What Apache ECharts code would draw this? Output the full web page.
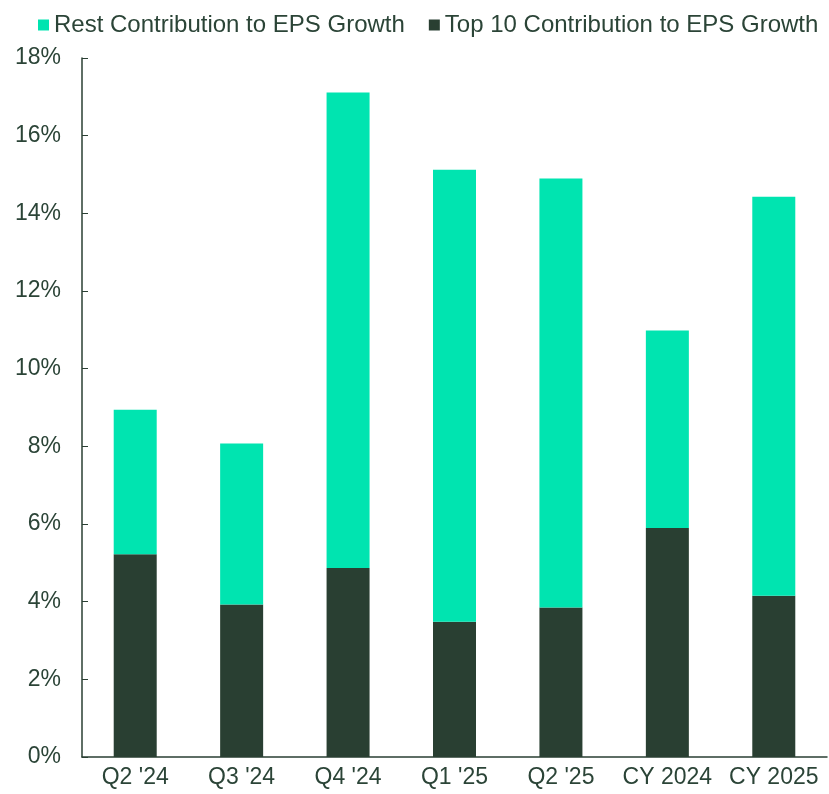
<!DOCTYPE html>
<html>
<head>
<meta charset="utf-8">
<script src="https://cdn.jsdelivr.net/npm/echarts@6/dist/echarts.min.js"></script>
<style>
  html, body { margin: 0; padding: 0; background: #fff; }
  #chart { width: 829px; height: 794px; }
</style>
</head>
<body>
<div id="chart"></div>
<script>
  // 数据
  var categories = ["Q2 '24", "Q3 '24", "Q4 '24", "Q1 '25", "Q2 '25", "CY 2024", "CY 2025"];
  var top10Values = [5.22, 3.93, 4.87, 3.48, 3.85, 5.90, 4.15];
  var restValues = [3.72, 4.14, 12.24, 11.64, 11.05, 5.08, 10.28];
  var seriesNames = ["Rest Contribution to EPS Growth", "Top 10 Contribution to EPS Growth"];

  var textColor = "#2b4437";
  var axisColor = "#2a3f33";
  var restColor = "#00e4b0";
  var top10Color = "#293f32";

  var myChart = echarts.init(document.getElementById("chart"));
  var option = {
    textStyle: { fontFamily: "Liberation Sans, Arial, sans-serif" },
    grid: { left: 82, right: 2, top: 58, bottom: 37 },
    legend: {
      data: seriesNames,
      top: 8,
      left: 33,
      itemWidth: 11,
      itemHeight: 11,
      itemGap: 24,
      icon: "rect",
      textStyle: { color: textColor, fontSize: 24 }
    },
    xAxis: {
      type: "category",
      data: categories,
      axisLine: { lineStyle: { color: axisColor, width: 1.5 } },
      axisTick: { inside: true, length: 6, lineStyle: { color: axisColor } },
      axisLabel: { color: textColor, fontSize: 23, margin: 9, interval: 0, hideOverlap: false }
    },
    yAxis: {
      type: "value",
      min: 0,
      max: 18,
      interval: 2,
      splitLine: { show: false },
      axisLine: { show: true, lineStyle: { color: axisColor, width: 1.5 } },
      axisTick: { show: true, inside: true, length: 6, lineStyle: { color: axisColor } },
      axisLabel: { color: textColor, fontSize: 23, margin: 21, formatter: "{value}%" }
    },
    series: [
      {
        name: seriesNames[1],
        type: "bar",
        stack: "eps",
        barWidth: 43,
        itemStyle: { color: top10Color },
        data: top10Values
      },
      {
        name: seriesNames[0],
        type: "bar",
        stack: "eps",
        barWidth: 43,
        itemStyle: { color: restColor },
        data: restValues
      }
    ]
  };
  myChart.setOption(option);
</script>
</body>
</html>
